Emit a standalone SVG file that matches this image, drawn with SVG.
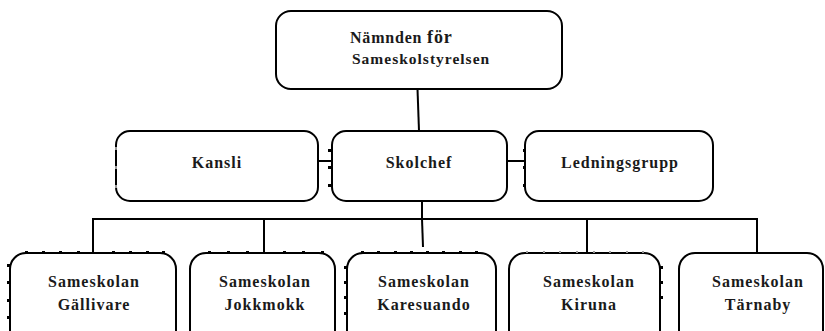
<svg xmlns="http://www.w3.org/2000/svg" width="825" height="331" viewBox="0 0 825 331">
<style>
.box{fill:#fff;stroke:#000;stroke-width:2}
.ln{fill:none;stroke:#000;stroke-width:2}
.t{font-family:"Liberation Serif","Times New Roman",serif;font-weight:bold;font-size:16px;letter-spacing:1px;fill:#1a1a1a;text-anchor:middle}
.tl{text-anchor:start}
.d{fill:#000}
.f{fill:#999}
</style>
<rect width="825" height="331" fill="#fff"/>
<g id="connectors">
<path class="ln" d="M417.5 89 L419 131"/>
<path class="ln" d="M318 161 H332"/>
<path class="ln" d="M505 161 H525"/>
<path class="ln" d="M422 201 V219"/>
<path class="ln" d="M93 219 H757"/>
<path class="ln" d="M93 218 V253"/>
<path class="ln" d="M264 218 V253"/>
<path class="ln" d="M422 219 L423 247"/>
<path class="ln" d="M587 218 V253"/>
<path class="ln" d="M757 218 V253"/>
</g>
<g id="n-namnden">
<rect class="box" x="276" y="11" width="286" height="78" rx="15"/>
<text class="t tl" x="350" y="43" style="letter-spacing:0.8px">Nämnden <tspan font-size="18">för</tspan></text>
<text class="t tl" x="352" y="64" style="font-size:15.5px">Sameskolstyrelsen</text>
</g>
<g id="n-kansli">
<rect class="box" x="116" y="131" width="202" height="70" rx="14"/>
<text class="t" x="217" y="168">Kansli</text>
</g>
<g id="n-skolchef">
<rect class="box" x="332" y="131" width="175" height="70" rx="14"/>
<text class="t" x="419" y="168">Skolchef</text>
</g>
<g id="n-ledningsgrupp">
<rect class="box" x="525" y="131" width="188" height="70" rx="14"/>
<text class="t" x="620" y="168">Ledningsgrupp</text>
</g>
<g id="n-gallivare">
<rect class="box" x="10" y="253" width="166" height="95" rx="16"/>
<text class="t" x="94" y="287">Sameskolan</text>
<text class="t" x="94" y="310">Gällivare</text>
</g>
<g id="n-jokkmokk">
<rect class="box" x="190" y="253" width="145" height="95" rx="16"/>
<text class="t" x="265" y="287">Sameskolan</text>
<text class="t" x="265" y="310">Jokkmokk</text>
</g>
<g id="n-karesuando">
<rect class="box" x="347" y="253" width="149" height="95" rx="16"/>
<text class="t" x="424" y="287">Sameskolan</text>
<text class="t" x="424" y="310">Karesuando</text>
</g>
<g id="n-kiruna">
<rect class="box" x="509" y="253" width="151" height="95" rx="16"/>
<text class="t" x="589" y="287">Sameskolan</text>
<text class="t" x="589" y="310">Kiruna</text>
</g>
<g id="n-tarnaby">
<rect class="box" x="679" y="253" width="144" height="95" rx="16"/>
<text class="t" x="758" y="287">Sameskolan</text>
<text class="t" x="758" y="310">Tärnaby</text>
</g>
<g id="ticks">
<g class="d">
<rect x="328" y="149" width="3" height="3"/><rect x="328" y="166" width="3" height="3"/><rect x="328" y="184" width="3" height="3"/>
<rect x="523" y="149" width="3" height="3"/><rect x="523" y="166" width="3" height="3"/><rect x="523" y="184" width="3" height="3"/>
<rect x="25" y="251" width="3" height="3"/><rect x="42" y="251" width="3" height="3"/><rect x="59" y="251" width="3" height="3"/><rect x="77" y="251" width="3" height="3"/><rect x="112" y="251" width="3" height="3"/><rect x="129" y="251" width="3" height="3"/><rect x="146" y="251" width="3" height="3"/><rect x="162" y="251" width="3" height="3"/>
<rect x="7" y="264" width="3" height="3"/><rect x="7" y="281" width="3" height="3"/><rect x="7" y="299" width="3" height="3"/><rect x="7" y="316" width="3" height="3"/>
<rect x="208" y="251" width="3" height="3"/><rect x="227" y="251" width="3" height="3"/><rect x="246" y="251" width="3" height="3"/><rect x="283" y="251" width="3" height="3"/><rect x="302" y="251" width="3" height="3"/><rect x="321" y="251" width="3" height="3"/>
<rect x="361" y="251" width="3" height="3"/><rect x="377" y="251" width="3" height="3"/><rect x="394" y="251" width="3" height="3"/><rect x="410" y="251" width="3" height="3"/><rect x="426" y="251" width="3" height="3"/><rect x="442" y="251" width="3" height="3"/><rect x="459" y="251" width="3" height="3"/><rect x="475" y="251" width="3" height="3"/>
<rect x="344" y="266" width="3" height="3"/><rect x="344" y="281" width="3" height="3"/><rect x="344" y="296" width="3" height="3"/><rect x="344" y="312" width="3" height="3"/>
<rect x="660" y="266" width="3" height="3"/><rect x="660" y="281" width="3" height="3"/><rect x="660" y="296" width="3" height="3"/>
</g>
<g class="f">
<rect x="526" y="251" width="2" height="2"/><rect x="543" y="251" width="2" height="2"/><rect x="559" y="251" width="2" height="2"/><rect x="576" y="251" width="2" height="2"/><rect x="593" y="251" width="2" height="2"/><rect x="609" y="251" width="2" height="2"/><rect x="626" y="251" width="2" height="2"/><rect x="642" y="251" width="2" height="2"/>
<rect x="115" y="147" width="2" height="3"/><rect x="115" y="166" width="2" height="3"/><rect x="115" y="185" width="2" height="3"/>
</g>
</g>
</svg>
